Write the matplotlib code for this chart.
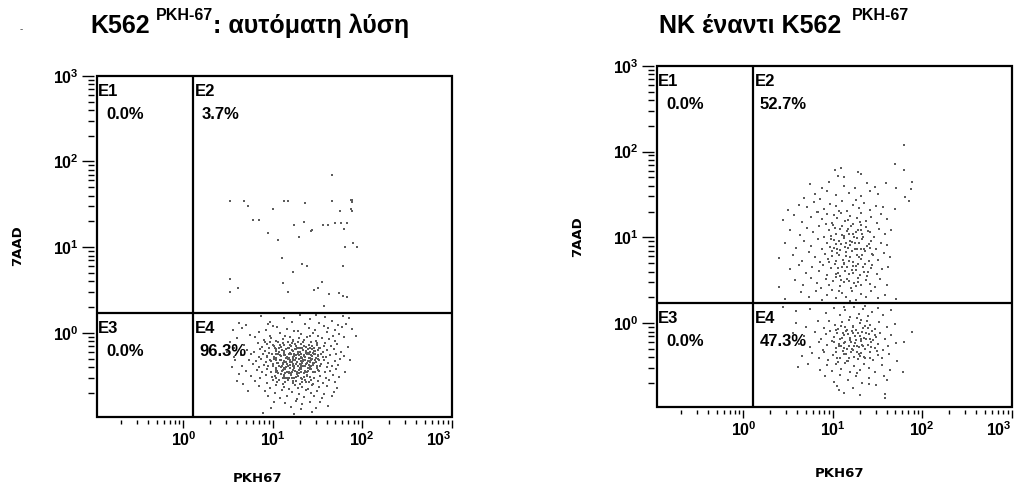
import numpy as np
import matplotlib
matplotlib.use('Agg')
import matplotlib.pyplot as plt
from matplotlib.patches import Rectangle
from matplotlib.ticker import LogLocator, NullFormatter

plt.rcParams['font.family'] = ['Liberation Sans', 'DejaVu Sans']
plt.rcParams['mathtext.fontset'] = 'custom'
plt.rcParams['mathtext.bf'] = 'Liberation Sans:bold'
plt.rcParams['mathtext.rm'] = 'Liberation Sans'

W, H = 1015, 492

# gate thresholds (PKH67, 7AAD)
gate_x = 1.28
gate_y = 1.73

quadrants = ['E1', 'E2', 'E3', 'E4']
pct_left = ['0.0%', '3.7%', '0.0%', '96.3%']
pct_right = ['0.0%', '52.7%', '0.0%', '47.3%']
decade_ticks = [1, 10, 100, 1000]
decade_labels = [r'$\mathbf{10^{0}}$', r'$\mathbf{10^{1}}$', r'$\mathbf{10^{2}}$', r'$\mathbf{10^{3}}$']

# events, log10 values x100 (PKH67, 7AAD)
left_e2 = [(52,154),(68,154),(72,148),(100,144),(113,154),(117,154),(136,151),(166,184),(166,154),
           (187,155),(189,155),(188,153),(175,142),(187,144),(189,142),(78,132),(85,132),(95,117),
           (124,126),(135,129),(156,126),(162,126),(169,128),(176,128),(183,128),(180,121),(143,119),
           (144,120),(129,112),(106,108),(190,105),(181,100),(194,100),(110,87),(133,80),(138,78),
           (178,78),(123,71),(52,63),(61,53),(52,48),(111,58),(117,48),(155,60),(150,53),(146,50),
           (163,45),(174,47),(178,43),(183,42),(157,32)]

left_e4 = [(87,20),(112,18),(130,21),(142,16),(158,19),(166,14),(178,20),(185,17),(97,13),(148,21),
           (62,12),(70,9),(95,11),(105,7),(121,13),(136,10),(152,12),(162,6),(173,9),(182,11),(55,4),
           (66,6),(92,3),(100,8),(116,5),(128,2),(140,6),(147,3),(157,8),(169,4),(177,7),(188,5),
           (74,-2),(85,1),(97,-4),(108,0),(114,-3),(124,2),(131,-1),(138,-5),(145,0),(151,-3),(160,1),
           (167,-4),(174,-1),(193,-3),(60,-6),(80,-5),(90,-8),(98,-6),(104,-9),(111,-7),(119,-5),
           (122,-9),(129,-6),(135,-8),(141,-4),(148,-9),(155,-6),(163,-7),(170,-9),(180,-5),
           (68,-14),(83,-12),(88,-16),(94,-13),(101,-15),(106,-11),(113,-14),(117,-17),(121,-12),
           (126,-15),(132,-13),(137,-16),(143,-11),(149,-14),(153,-17),(158,-12),(165,-15),(172,-13),
           (184,-16),(91,-10),(109,-16),(128,-10),(140,-14),(146,-17),(157,-15),(119,-14),(133,-17),
           (71,-20),(79,-22),(86,-19),(91,-21),(96,-23),(102,-18),(107,-22),(110,-20),(115,-19),
           (119,-23),(123,-21),(127,-18),(130,-22),(134,-20),(139,-23),(144,-19),(147,-21),(152,-18),
           (156,-22),(161,-20),(168,-19),(176,-22),(104,-21),(113,-23),(125,-19),(132,-18),(137,-21),
           (142,-22),(150,-20),(118,-18),(128,-23),(145,-23),
           (64,-26),(76,-25),(84,-28),(89,-24),(93,-27),(99,-25),(103,-29),(108,-26),(112,-24),
           (116,-28),(120,-25),(124,-27),(128,-24),(131,-28),(135,-26),(138,-24),(142,-29),(146,-25),
           (150,-27),(154,-24),(159,-28),(164,-26),(171,-25),(179,-27),(106,-24),(118,-29),(126,-26),
           (133,-29),(140,-25),(148,-29),(122,-28),(136,-28),(114,-26),(129,-26),(144,-27),
           (58,-32),(73,-31),(81,-33),(87,-30),(92,-34),(97,-32),(101,-30),(105,-35),(109,-31),
           (113,-33),(117,-30),(121,-34),(125,-32),(129,-30),(133,-35),(136,-31),(140,-33),(144,-30),
           (148,-34),(152,-32),(157,-31),(162,-35),(169,-33),(175,-30),(186,-32),(111,-35),(119,-32),
           (127,-34),(131,-33),(138,-35),(143,-32),(150,-30),(115,-34),(123,-30),(134,-33),(146,-35),
           (66,-38),(78,-36),(85,-40),(90,-37),(95,-39),(100,-36),(104,-41),(107,-38),(111,-36),
           (115,-40),(119,-37),(122,-39),(126,-36),(130,-41),(134,-38),(137,-36),(141,-40),(145,-37),
           (149,-39),(154,-36),(160,-40),(166,-38),(173,-37),(113,-41),(124,-41),(132,-37),(139,-41),
           (117,-38),(128,-39),(143,-38),(109,-40),
           (70,-44),(82,-43),(88,-46),(94,-42),(98,-45),(103,-43),(106,-47),(110,-44),(114,-42),
           (118,-46),(123,-43),(127,-45),(131,-42),(135,-47),(139,-44),(143,-42),(147,-46),(151,-43),
           (158,-45),(164,-44),(171,-42),(181,-46),(120,-47),(129,-47),(137,-45),(125,-44),(116,-45),
           (75,-50),(86,-52),(92,-49),(99,-51),(104,-53),(109,-48),(113,-51),(116,-53),(120,-49),
           (124,-52),(128,-50),(132,-53),(138,-49),(142,-51),(146,-53),(153,-50),(159,-52),(167,-49),
           (174,-51),(121,-53),(135,-51),(111,-52),
           (80,-56),(93,-58),(100,-55),(105,-57),(111,-59),(117,-55),(122,-58),(126,-56),(130,-59),
           (136,-55),(140,-57),(145,-59),(150,-56),(156,-58),(163,-55),(170,-57),(114,-57),(133,-57),
           (84,-62),(97,-64),(104,-61),(112,-63),(118,-65),(125,-61),(133,-63),(139,-65),(144,-61),
           (152,-63),(161,-62),(172,-64),(128,-64),
           (91,-68),(102,-70),(110,-67),(121,-69),(129,-71),(137,-67),(143,-70),(149,-68),(157,-71),
           (168,-69),(95,-74),(108,-76),(116,-73),(127,-77),(135,-75),(146,-73),(155,-76),(166,-74),
           (101,-80),(114,-82),(126,-79),(133,-83),(141,-80),(153,-81),
           (98,-87),(120,-86),(131,-89),(148,-88),(162,-85),(89,-93),(124,-94),(144,-92),
           (52,-10),(57,-17),(54,-40),(62,-48),(60,-56),(67,-60),(72,-68),(56,-28),(49,-22)]

# densest part of the left E4 cloud
left_e4_core = [(97,-11),(103,-19),(108,-14),(112,-21),(117,-10),(121,-20),(125,-13),(129,-17),(134,-11),
                (139,-19),(144,-15),(149,-12),(99,-24),(104,-31),(109,-27),(113,-34),(118,-25),(122,-32),
                (126,-29),(130,-36),(135,-27),(139,-33),(143,-26),(147,-31),(100,-39),(105,-44),(110,-38),
                (114,-47),(119,-41),(123,-36),(127,-48),(131,-40),(136,-44),(140,-37),(145,-46),(149,-41),
                (102,-50),(107,-55),(112,-49),(118,-52),(123,-56),(128,-47),(133,-54),(138,-50),(143,-55),
                (96,-17),(101,-28),(106,-35),(111,-43),(115,-29),(120,-15),(124,-38),(128,-22),(132,-45),
                (137,-23),(141,-42),(146,-21),(98,-33),(103,-46),(107,-18),(116,-36),(121,-45),(126,-19),
                (131,-25),(136,-38),(140,-29),(145,-35),(150,-26),(153,-38),(94,-28),(108,-31),(113,-26),
                (119,-34),(124,-24),(129,-43),(134,-31),(138,-46),(142,-34),(147,-24),(152,-44),(156,-28),
                (100,-14),(111,-12),(122,-8),(135,-15),(148,-9),(114,-52),(126,-51),(137,-57),(104,-25),
                (118,-47),(131,-29),(142,-18)]

right_e2 = [(180,208),(169,185),(109,181),(102,178),(180,178),(128,176),(131,174),(188,164),(187,156),
            (181,147),(185,142),(169,133),(159,163),(171,158),(106,172),(113,170),
            (74,162),(88,158),(96,164),(112,160),(125,157),(138,163),(147,159),(80,151),(93,154),
            (104,149),(118,152),(132,148),(142,154),(151,150),(68,146),(86,145),
            (50,132),(62,138),(71,135),(79,141),(90,133),(97,139),(103,136),(110,142),(116,131),
            (122,138),(129,134),(135,140),(141,132),(148,137),(156,135),(83,130),(107,131),(126,143),
            (44,120),(57,126),(66,118),(75,124),(82,129),(88,121),(94,127),(99,117),(105,123),
            (109,128),(114,119),(119,125),(123,116),(127,122),(132,128),(137,119),(143,124),(149,117),
            (154,127),(161,121),(101,126),(117,120),(130,118),(92,116),
            (52,108),(63,103),(71,111),(78,106),(85,113),(90,101),(96,108),(100,114),(104,104),
            (108,110),(112,102),(116,107),(120,113),(124,101),(128,109),(133,104),(137,112),(141,106),
            (146,100),(152,110),(158,104),(165,108),(98,102),(118,104),(131,114),(126,106),(110,113),
            (47,93),(59,88),(68,96),(76,90),(83,98),(88,86),(93,94),(97,89),(101,97),(105,87),
            (109,92),(113,99),(117,88),(121,95),(125,86),(129,93),(133,98),(138,90),(143,96),(148,87),
            (154,94),(161,91),(107,96),(119,91),(135,87),(127,99),(115,93),
            (40,76),(55,80),(65,73),(73,83),(80,77),(86,71),(91,81),(95,75),(99,84),(103,72),
            (107,79),(111,74),(115,83),(119,77),(123,71),(127,80),(131,75),(136,84),(140,72),(145,79),
            (151,74),(157,82),(164,77),(113,70),(121,84),(133,79),(105,82),
            (52,63),(62,68),(70,58),(77,65),(84,61),(89,68),(94,56),(98,64),(102,69),(106,59),
            (110,66),(114,61),(118,57),(122,67),(126,62),(130,56),(134,65),(139,60),(144,68),(149,57),
            (155,63),(162,66),(116,65),(128,69),(108,55),
            (40,42),(58,50),(67,45),(75,53),(82,47),(87,41),(92,52),(96,44),(100,49),(104,54),
            (108,43),(112,48),(116,52),(120,41),(124,47),(128,53),(132,44),(137,50),(142,46),(147,42),
            (153,51),(160,45),(118,49),(126,43),
            (47,28),(64,36),(73,30),(81,38),(88,27),(94,33),(99,39),(104,29),(110,35),(115,31),
            (121,38),(126,27),(131,34),(137,30),(143,37),(150,29),(158,33),(171,28),(107,38),(119,26)]

right_e2_core = [(96,71),(101,88),(106,64),(110,103),(115,78),(119,96),(123,58),(127,87),(131,108),
                 (136,69),(140,92),(144,81),(98,98),(103,57),(108,85),(112,69),(117,110),(121,62),
                 (125,94),(129,77),(134,100),(138,55),(142,88),(99,78),(104,92),(109,50),(114,89),
                 (118,72),(122,104),(126,67),(131,86),(135,60),(139,107),(143,64),(102,111),(128,48)]

right_e4 = [(44,19),(59,14),(74,17),(92,12),(101,18),(108,9),(114,15),(119,7),(124,19),(129,11),
            (134,16),(139,8),(144,13),(150,18),(156,10),(165,15),(112,19),(127,6),(136,20),
            (59,0),(70,-4),(83,2),(90,-6),(96,3),(102,-2),(106,-7),(110,1),(114,-5),(118,4),
            (122,-3),(126,-8),(130,0),(134,-6),(138,3),(142,-2),(147,-7),(152,1),(160,-4),(170,-1),
            (116,-8),(132,4),
            (55,-12),(68,-15),(80,-10),(87,-18),(92,-13),(97,-9),(101,-16),(105,-11),(108,-19),
            (112,-14),(115,-9),(119,-17),(123,-12),(126,-20),(130,-15),(133,-10),(137,-18),(140,-13),
            (144,-9),(148,-16),(153,-12),(158,-19),(165,-14),(188,-10),(117,-13),(128,-11),(135,-17),
            (142,-19),(110,-17),(121,-9),
            (62,-24),(74,-28),(84,-22),(89,-31),(94,-25),(99,-21),(103,-29),(107,-24),(111,-32),
            (114,-22),(118,-27),(122,-31),(125,-23),(129,-28),(132,-21),(136,-30),(139,-25),(143,-22),
            (147,-29),(151,-24),(156,-31),(162,-26),(171,-23),(180,-22),(116,-30),(127,-26),(134,-27),
            (120,-22),(109,-27),
            (66,-38),(77,-35),(85,-41),(90,-34),(95,-43),(100,-37),(104,-33),(108,-40),(112,-36),
            (116,-44),(120,-34),(124,-39),(128,-42),(132,-35),(136,-40),(141,-33),(145,-43),(150,-37),
            (155,-41),(163,-36),(172,-44),(118,-41),(130,-38),(106,-45),
            (61,-51),(72,-47),(86,-55),(93,-49),(99,-56),(104,-48),(109,-53),(114,-46),(119,-57),
            (124,-50),(130,-54),(135,-47),(140,-52),(147,-57),(155,-49),(164,-54),(178,-57),(127,-58),
            (91,-62),(101,-68),(108,-60),(117,-66),(126,-61),(133,-70),(140,-64),(148,-72),(157,-62),
            (160,-66),(105,-73),(122,-75),(140,-71),
            (107,-78),(112,-81),(158,-87),(158,-82),(130,-84)]

right_e4_core = [(103,-8),(107,-27),(111,-12),(115,-36),(119,-20),(123,-4),(127,-33),(131,-18),
                 (135,-39),(139,-6),(143,-28),(147,-14),(105,-40),(109,-3),(113,-23),(117,-44),
                 (121,-30),(125,-15),(129,-36),(133,-25),(137,-11),(141,-41),(145,-20),(149,-32),
                 (101,-22),(124,-26),(136,-3),(112,-29)]


def draw_panel(ax, groups, pcts):
    for pts in groups:
        arr = np.array(pts) / 100.0
        ax.scatter(10 ** arr[:, 0], 10 ** arr[:, 1], s=3, marker='s', c='#5c5c5c', linewidths=0)
    ax.set_xscale('log')
    ax.set_yscale('log')
    ax.set_xlim(10 ** -0.97, 10 ** 3.0)
    ax.set_ylim(10 ** -0.98, 10 ** 3.0)
    ax.axvline(gate_x, color='black', lw=1.6)
    ax.axhline(gate_y, color='black', lw=1.6)
    ax.add_patch(Rectangle((0, 0), 1, 1, transform=ax.transAxes, fill=False,
                           lw=1.6, ec='black', clip_on=False, zorder=5))
    for side in ['top', 'right']:
        ax.spines[side].set_visible(False)
    for side in ['left', 'bottom']:
        ax.spines[side].set_position(('outward', 2.2))
        ax.spines[side].set_color('none')

    ax.set_xticks(decade_ticks)
    ax.set_xticklabels(decade_labels)
    ax.set_yticks(decade_ticks)
    ax.set_yticklabels(decade_labels)
    ax.xaxis.get_majorticklabels()[-1].set_horizontalalignment('right')
    for axis in [ax.xaxis, ax.yaxis]:
        axis.set_minor_locator(LogLocator(base=10, subs=np.arange(2, 10)))
        axis.set_minor_formatter(NullFormatter())
    ax.tick_params(axis='x', which='major', length=6, width=1, pad=1.5, labelsize=11.5)
    ax.tick_params(axis='x', which='minor', length=3, width=1)
    ax.tick_params(axis='y', which='major', length=8.5, width=1, pad=2, labelsize=11.5)
    ax.tick_params(axis='y', which='minor', length=4.3, width=1)

    anchors = [((0, 1), ('axes fraction', 'axes fraction')),
               ((gate_x, 1), ('data', 'axes fraction')),
               ((0, gate_y), ('axes fraction', 'data')),
               ((gate_x, gate_y), ('data', 'data'))]
    for name, pct, (xy, coords) in zip(quadrants, pcts, anchors):
        ax.annotate(name, xy=xy, xycoords=coords, xytext=(1.2, -6), textcoords='offset points',
                    fontsize=12, fontweight='bold', va='top', ha='left')
        dx = 7 if xy[0] == 0 else (6.5 if len(pct) == 4 else 4.5)
        ax.annotate(pct, xy=xy, xycoords=coords, xytext=(dx, -22.5), textcoords='offset points',
                    fontsize=12, fontweight='bold', va='top', ha='left')


fig = plt.figure(figsize=(W / 100, H / 100), dpi=100)
ax1 = fig.add_axes([96.7 / W, 1 - 417 / H, 355 / W, 341.3 / H])
ax2 = fig.add_axes([656.7 / W, 1 - 407.3 / H, 355 / W, 341.6 / H])
draw_panel(ax1, [left_e2, left_e4, left_e4_core], pct_left)
draw_panel(ax2, [right_e2, right_e2_core, right_e4, right_e4_core], pct_right)

for x, y in [(18, 246), (578, 237)]:
    fig.text(x / W, 1 - y / H, '7AAD', rotation=90, ha='center', va='center',
             fontsize=9.5, fontweight='bold', family='DejaVu Sans')
for x, y in [(258, 479), (839, 473.5)]:
    fig.text(x / W, 1 - y / H, 'PKH67', ha='center', va='center',
             fontsize=9.5, fontweight='bold', family='DejaVu Sans')

renderer = fig.canvas.get_renderer()


def title_run(parts, x0, base):
    x = x0
    for text, size, lift, gap in parts:
        t = fig.text(x / W, 1 - (base - lift) / H, text, fontsize=size, fontweight='bold',
                     ha='left', va='baseline')
        x = t.get_window_extent(renderer).x1 + gap


title_run([('K562', 18, 0, 6), ('PKH-67', 11.5, 13, 0), (': αυτόματη λύση', 18, 0, 0)], 90, 33)
title_run([('NK έναντι K562', 18, 0, 11), ('PKH-67', 11.5, 13, 0)], 659, 33)
fig.text(20 / W, 1 - 32 / H, '-', fontsize=7, color='#444444')

fig.savefig('out.png', dpi=100)
